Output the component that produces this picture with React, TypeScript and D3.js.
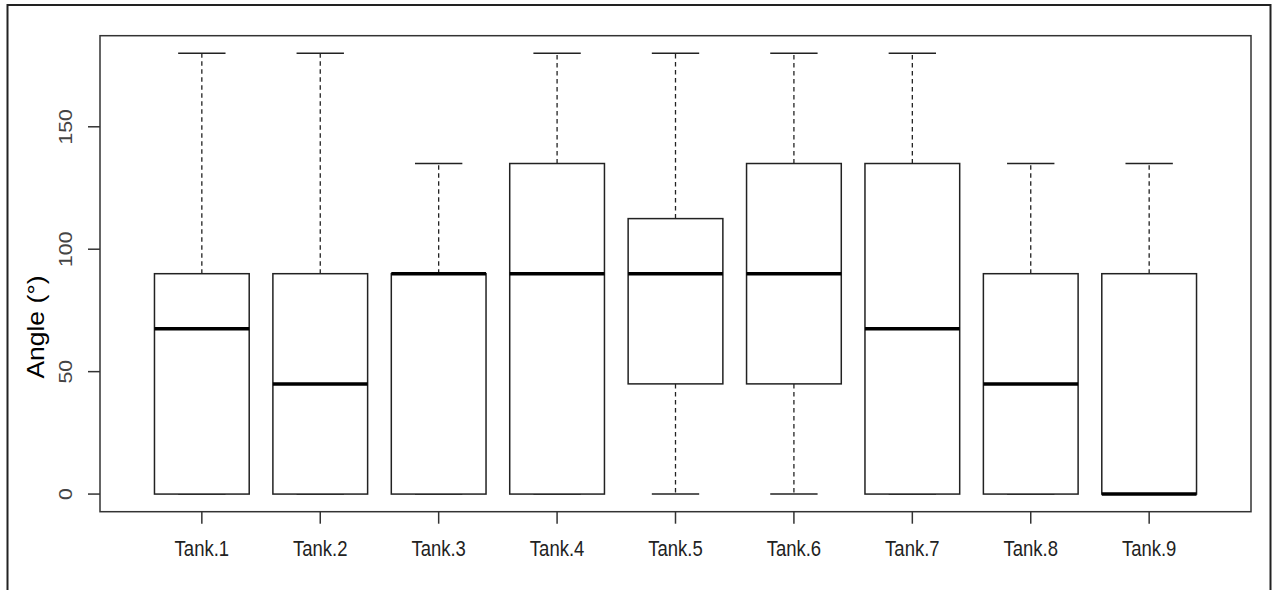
import React from "react";
import * as d3 from "d3";

const categories = ["Tank.1", "Tank.2", "Tank.3", "Tank.4", "Tank.5", "Tank.6", "Tank.7", "Tank.8", "Tank.9"];
const lowerWhisker = [0, 0, 0, 0, 0, 0, 0, 0, 0];
const q1 = [0, 0, 0, 0, 45, 45, 0, 0, 0];
const median = [67.5, 45, 90, 90, 90, 90, 67.5, 45, 0];
const q3 = [90, 90, 90, 135, 112.5, 135, 135, 90, 90];
const upperWhisker = [180, 180, 135, 180, 180, 180, 180, 135, 135];
const yTicks = [0, 50, 100, 150];
const yLabel = "Angle (°)";

const W = 1273;
const H = 590;
const plot = { left: 100, right: 1251, top: 35.7, bottom: 511.7 };
const STRETCH = 1.15;

export default function App() {
  const n = categories.length;
  const x = d3
    .scaleLinear()
    .domain([0.5 - n * 0.04, n + 0.5 + n * 0.04])
    .range([plot.left, plot.right]);
  const ext = 180 * 0.04;
  const y = d3
    .scaleLinear()
    .domain([0 - ext, 180 + ext])
    .range([plot.bottom, plot.top]);
  const unit = x(1) - x(0);
  const boxW = unit * 0.8;
  const capW = boxW * 0.5;

  return (
    <svg
      width={W}
      height={H}
      style={{ position: "absolute", left: 0, top: 0, background: "#fff" }}
      fontFamily="'Liberation Sans', Arial, sans-serif"
    >
      <rect x={0} y={0} width={W} height={H} fill="#fff" />
      {/* outer frame */}
      <rect x={7.5} y={5} width={1263} height={620} fill="none" stroke="#222" strokeWidth={2} />
      {/* plot box */}
      <rect
        x={plot.left}
        y={plot.top}
        width={plot.right - plot.left}
        height={plot.bottom - plot.top}
        fill="none"
        stroke="#333"
        strokeWidth={1.5}
      />
      {/* y axis ticks */}
      {yTicks.map((t) => (
        <g key={t}>
          <line x1={plot.left - 12} x2={plot.left} y1={y(t)} y2={y(t)} stroke="#333" strokeWidth={1.5} />
          <text
            transform={`translate(72,${y(t)}) rotate(-90) scale(${STRETCH},1)`}
            textAnchor="middle"
            fontSize={18.5}
            fill="#444"
          >
            {t}
          </text>
        </g>
      ))}
      <text
        transform={`translate(44,${327}) rotate(-90) scale(${STRETCH},1)`}
        textAnchor="middle"
        fontSize={23}
        fill="#000"
      >
        {yLabel}
      </text>
      {/* boxes */}
      {categories.map((c, i) => {
        const cx = x(i + 1);
        return (
          <g key={c}>
            <line x1={cx} x2={cx} y1={y(q3[i])} y2={y(upperWhisker[i])} stroke="#222" strokeWidth={1.3} strokeDasharray="4.5,3.5" />
            <line x1={cx} x2={cx} y1={y(q1[i])} y2={y(lowerWhisker[i])} stroke="#222" strokeWidth={1.3} strokeDasharray="4.5,3.5" />
            <line x1={cx - capW / 2} x2={cx + capW / 2} y1={y(upperWhisker[i])} y2={y(upperWhisker[i])} stroke="#222" strokeWidth={1.5} />
            <line x1={cx - capW / 2} x2={cx + capW / 2} y1={y(lowerWhisker[i])} y2={y(lowerWhisker[i])} stroke="#222" strokeWidth={1.5} />
            <rect
              x={cx - boxW / 2}
              y={y(q3[i])}
              width={boxW}
              height={Math.max(0, y(q1[i]) - y(q3[i]))}
              fill="#fff"
              stroke="#222"
              strokeWidth={1.5}
            />
            <line x1={cx - boxW / 2} x2={cx + boxW / 2} y1={y(median[i])} y2={y(median[i])} stroke="#000" strokeWidth={3.5} />
            <line x1={cx} x2={cx} y1={plot.bottom} y2={plot.bottom + 12} stroke="#333" strokeWidth={1.5} />
            <text
              transform={`translate(${cx},556) scale(1,${STRETCH})`}
              textAnchor="middle"
              fontSize={18.5}
              fill="#222"
            >
              {c}
            </text>
          </g>
        );
      })}
    </svg>
  );
}
